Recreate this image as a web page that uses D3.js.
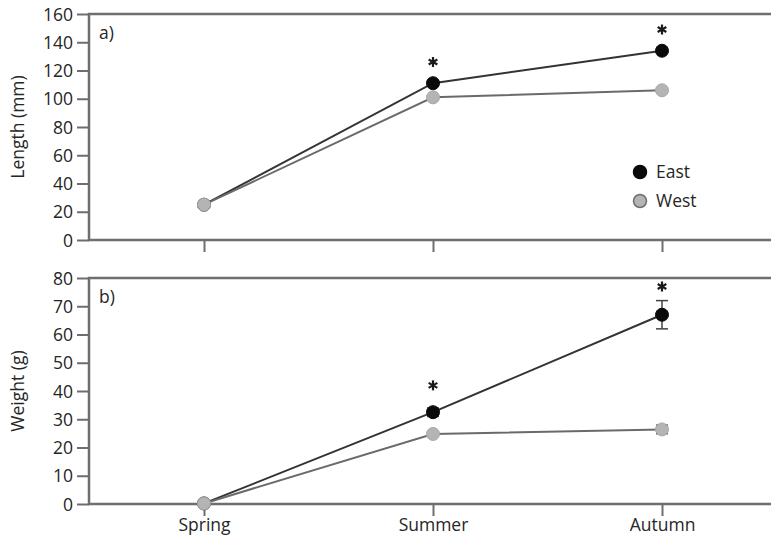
<!DOCTYPE html>
<html>
<head>
<meta charset="utf-8">
<script src="https://cdn.jsdelivr.net/npm/d3@7"></script>
<style>
  body { margin: 0; background: #fff; }
  svg text { font-family: "Open Sans", "Noto Sans", sans-serif; fill: #262626; }
</style>
</head>
<body>
<svg id="chart" width="771" height="541"></svg>
<script>
// Seasons on the x axis
let seasons = ['Spring', 'Summer', 'Autumn'];

// Panel a) length (mm)
let lengthEast = [25, 111, 134];
let lengthWest = [25, 101, 106];
let lengthEastErr = [0.5, 1, 1];
let lengthWestErr = [0.5, 1, 1];
let lengthStars = [null, 126, 149];
let lengthTicks = [0, 20, 40, 60, 80, 100, 120, 140, 160];

// Panel b) weight (g)
let weightEast = [0.2, 32.5, 67];
let weightWest = [0.2, 24.8, 26.4];
let weightEastErr = [0.2, 1.5, 5];
let weightWestErr = [0.2, 0.5, 1.5];
let weightStars = [null, 42, 77];
let weightTicks = [0, 10, 20, 30, 40, 50, 60, 70, 80];

let svg = d3.select('#chart');

// Shared x scale, the frame runs past the right edge of the picture
let x = d3.scalePoint()
    .domain(seasons)
    .range([204, 662]);

let left = 89, right = 790;

// This function draws one panel
function panel(cfg) {

    let y = d3.scaleLinear()
        .domain([0, cfg.max])
        .range([cfg.bottom, cfg.top]);

    let g = svg.append('g');

    // Frame
    g.append('rect')
        .attr('x', left)
        .attr('y', cfg.top)
        .attr('width', right - left)
        .attr('height', cfg.bottom - cfg.top)
        .attr('fill', 'none')
        .attr('stroke', '#6e6e6e')
        .attr('stroke-width', 2.5);

    // Y axis
    let yAxis = g.append('g')
        .attr('transform', `translate(${left},0)`)
        .call(d3.axisLeft(y).tickValues(cfg.ticks).tickSize(12).tickSizeOuter(0));
    yAxis.select('.domain').remove();
    yAxis.selectAll('line').attr('stroke', '#6e6e6e').attr('stroke-width', 2);
    yAxis.selectAll('text')
        .attr('x', -16)
        .attr('dy', '0.35em')
        .style('font-size', '17.5px')
        .attr('fill', '#262626');

    // X axis ticks
    let xAxis = g.append('g')
        .attr('transform', `translate(0,${cfg.bottom})`)
        .call(d3.axisBottom(x).tickSize(12).tickSizeOuter(0));
    xAxis.select('.domain').remove();
    xAxis.selectAll('line').attr('stroke', '#6e6e6e').attr('stroke-width', 2);
    if (cfg.showLabels) {
        xAxis.selectAll('text')
            .attr('y', 15)
            .attr('dy', '0.71em')
            .style('font-size', '17.5px')
            .attr('fill', '#262626');
    } else {
        xAxis.selectAll('text').remove();
    }

    // Axis title
    g.append('text')
        .attr('transform', `translate(24,${(cfg.top + cfg.bottom) / 2}) rotate(-90)`)
        .attr('text-anchor', 'middle')
        .style('font-size', '17.5px')
        .text(cfg.title);

    // Panel letter
    g.append('text')
        .attr('x', 99)
        .attr('y', cfg.top + 25)
        .style('font-size', '17.5px')
        .text(cfg.letter);

    let line = d3.line()
        .x((d, i) => x(seasons[i]))
        .y(d => y(d));

    // East first, West on top
    let series = [
        { vals: cfg.east, err: cfg.eastErr, line: '#333333', fill: '#0a0a0a', stroke: '#0a0a0a' },
        { vals: cfg.west, err: cfg.westErr, line: '#6a6a6a', fill: '#b4b4b4', stroke: '#a8a8a8' }
    ];

    series.forEach(s => {
        g.append('path')
            .datum(s.vals)
            .attr('d', line)
            .attr('fill', 'none')
            .attr('stroke', s.line)
            .attr('stroke-width', 2);

        // Error bars
        let eb = g.selectAll(null)
            .data(s.vals.map((v, i) => ({ v: v, e: s.err[i], s: seasons[i] })))
            .join('g');
        eb.append('line')
            .attr('x1', d => x(d.s)).attr('x2', d => x(d.s))
            .attr('y1', d => y(d.v - d.e)).attr('y2', d => y(d.v + d.e))
            .attr('stroke', '#444').attr('stroke-width', 1.5);
        eb.selectAll('.cap')
            .data(d => [d.v - d.e, d.v + d.e].map(t => ({ t: t, s: d.s })))
            .join('line')
            .attr('x1', d => x(d.s) - 6).attr('x2', d => x(d.s) + 6)
            .attr('y1', d => y(d.t)).attr('y2', d => y(d.t))
            .attr('stroke', '#444').attr('stroke-width', 1.5);

        g.selectAll(null)
            .data(s.vals)
            .join('circle')
            .attr('cx', (d, i) => x(seasons[i]))
            .attr('cy', d => y(d))
            .attr('r', 6.5)
            .attr('fill', s.fill)
            .attr('stroke', s.stroke)
            .attr('stroke-width', 1);
    });

    // Significance asterisks
    let star = g.selectAll('.star')
        .data(cfg.stars.map((v, i) => ({ v: v, s: seasons[i] })).filter(d => d.v !== null))
        .join('g')
        .attr('transform', d => `translate(${x(d.s)},${y(d.v)})`);
    [0, 60, 120].forEach(a => {
        star.append('line')
            .attr('x1', 0).attr('x2', 0)
            .attr('y1', -5).attr('y2', 5)
            .attr('transform', `rotate(${a})`)
            .attr('stroke', '#1a1a1a')
            .attr('stroke-width', 2.2);
    });
}

panel({
    top: 14, bottom: 240, max: 160, ticks: lengthTicks,
    east: lengthEast, west: lengthWest, eastErr: lengthEastErr, westErr: lengthWestErr,
    stars: lengthStars, title: 'Length (mm)', letter: 'a)', showLabels: false
});

panel({
    top: 278, bottom: 504, max: 80, ticks: weightTicks,
    east: weightEast, west: weightWest, eastErr: weightEastErr, westErr: weightWestErr,
    stars: weightStars, title: 'Weight (g)', letter: 'b)', showLabels: true
});

// Legend in panel a)
let legend = svg.append('g');
let legendItems = [
    { name: 'East', fill: '#0a0a0a', stroke: '#0a0a0a' },
    { name: 'West', fill: '#b4b4b4', stroke: '#6e6e6e' }
];
legend.selectAll('circle')
    .data(legendItems)
    .join('circle')
    .attr('cx', 640)
    .attr('cy', (d, i) => 172 + i * 29)
    .attr('r', 6.5)
    .attr('fill', d => d.fill)
    .attr('stroke', d => d.stroke)
    .attr('stroke-width', 1.5);
legend.selectAll('text')
    .data(legendItems)
    .join('text')
    .attr('x', 656)
    .attr('y', (d, i) => 172 + i * 29)
    .attr('dy', '0.35em')
    .style('font-size', '17.5px')
    .text(d => d.name);
</script>
</body>
</html>
